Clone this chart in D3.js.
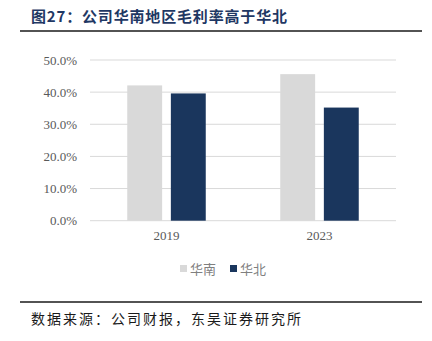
<!DOCTYPE html>
<html><head><meta charset="utf-8">
<script src="https://cdn.jsdelivr.net/npm/d3@7"></script>
<style>body{margin:0;background:#fff}svg{display:block}</style>
</head><body>
<script>
const categories = ["2019", "2023"];
const seriesNames = ["华南", "华北"];
const south = [0.421, 0.456];
const north = [0.396, 0.352];
const yTicks = [0, 0.1, 0.2, 0.3, 0.4, 0.5];
const colors = ["#d9d9d9", "#1a365d"];

const W = 432, H = 341;
const svg = d3.select("body").append("svg").attr("width", W).attr("height", H);
const serif = "'Liberation Serif','DejaVu Serif',serif";
const cjk = "'Noto Sans CJK SC','Noto Sans CJK JP',sans-serif";

svg.append("text").attr("x", 31).attr("y", 22).attr("font-family", cjk)
  .attr("font-weight", "bold").attr("font-size", 15).attr("fill", "#1f3864")
  .attr("textLength", 256).attr("lengthAdjust", "spacing")
  .text("图27：公司华南地区毛利率高于华北");
svg.append("line").attr("x1", 20).attr("x2", 422).attr("y1", 31).attr("y2", 31)
  .attr("stroke", "#1a1a1a").attr("stroke-width", 1.5);

const x0 = d3.scaleBand().domain(categories).range([90, 396]);
const x1 = d3.scaleBand().domain(seriesNames).range([0, 78.5]).paddingInner(0.2);
const y = d3.scaleLinear().domain([0, 0.5]).range([220.7, 60]);

const g = svg.append("g");
g.selectAll("line.grid").data(yTicks).join("line").attr("class", "grid")
  .attr("x1", 90).attr("x2", 396).attr("y1", d => y(d)).attr("y2", d => y(d))
  .attr("stroke", "#d9d9d9").attr("stroke-width", 1);

const yAxis = d3.axisLeft(y).tickValues(yTicks).tickFormat(d3.format(".1%")).tickSize(0).tickPadding(0);
const ya = svg.append("g").attr("transform", "translate(77,0)").call(yAxis);
ya.select(".domain").remove();
ya.selectAll("text").attr("font-family", serif).attr("font-size", 13).attr("fill", "#595959");

const data = categories.map((c, i) => ({ c, vals: [south[i], north[i]] }));
const grp = g.selectAll("g.cat").data(data).join("g").attr("class", "cat")
  .attr("transform", d => `translate(${x0(d.c) + (x0.bandwidth() - 78.5) / 2},0)`);
grp.selectAll("rect").data(d => d.vals.map((v, j) => ({ v, s: seriesNames[j], j })))
  .join("rect").attr("x", d => x1(d.s)).attr("width", x1.bandwidth())
  .attr("y", d => y(d.v)).attr("height", d => y(0) - y(d.v))
  .attr("fill", d => colors[d.j]);

const xAxis = d3.axisBottom(x0).tickSize(0).tickPadding(0);
const xa = svg.append("g").attr("transform", "translate(0,231)").call(xAxis);
xa.select(".domain").remove();
xa.selectAll("text").attr("font-family", serif).attr("font-size", 13).attr("fill", "#595959")
  .attr("dy", "0.71em");

const legX = [180, 230];
const lg = svg.append("g");
seriesNames.forEach((s, i) => {
  lg.append("rect").attr("x", legX[i]).attr("y", 265).attr("width", 7).attr("height", 7).attr("fill", colors[i]);
  lg.append("text").attr("x", legX[i] + 10).attr("y", 273.5).attr("font-family", cjk)
    .attr("font-size", 13).attr("fill", "#7f7f7f").text(s);
});

svg.append("line").attr("x1", 20).attr("x2", 422).attr("y1", 302).attr("y2", 302)
  .attr("stroke", "#1a1a1a").attr("stroke-width", 1.5);
svg.append("text").attr("x", 31).attr("y", 324).attr("font-family", cjk)
  .attr("font-size", 14).attr("fill", "#1a1a1a")
  .attr("textLength", 270).attr("lengthAdjust", "spacing")
  .text("数据来源：公司财报，东吴证券研究所");
</script>
</body></html>
